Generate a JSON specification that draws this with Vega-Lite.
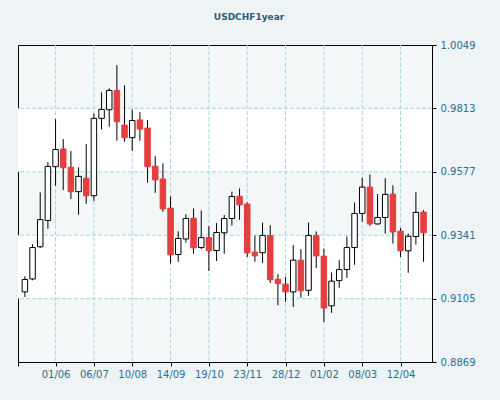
{
  "$schema": "https://vega.github.io/schema/vega-lite/v6.json",
  "width": 414,
  "height": 317,
  "autosize": "none",
  "padding": {"left": 18, "top": 45, "right": 68, "bottom": 38},
  "background": "#eef3f5",
  "title": {"text": "USDCHF1year", "font": "DejaVu Sans", "fontSize": 9, "fontWeight": "bold", "color": "#2f5a78", "anchor": "middle", "frame": "group", "dx": 24, "offset": 18},
  "datasets": {
    "bands": [{"lo": 0.9105, "hi": 0.9341}, {"lo": 0.9577, "hi": 0.9813}],
    "gy": [{"v": 0.9105}, {"v": 0.9341}, {"v": 0.9577}, {"v": 0.9813}],
    "gx": [{"date": "2012-06-01"}, {"date": "2012-07-06"}, {"date": "2012-08-10"}, {"date": "2012-09-14"}, {"date": "2012-10-19"}, {"date": "2012-11-23"}, {"date": "2012-12-28"}, {"date": "2013-02-01"}, {"date": "2013-03-08"}, {"date": "2013-04-12"}],
    "ohlc": [
      {"date": "2012-05-04", "open": 0.9130, "high": 0.9188, "low": 0.9111, "close": 0.9176},
      {"date": "2012-05-11", "open": 0.9178, "high": 0.9308, "low": 0.9173, "close": 0.9295},
      {"date": "2012-05-18", "open": 0.9298, "high": 0.9500, "low": 0.9294, "close": 0.9399},
      {"date": "2012-05-25", "open": 0.9396, "high": 0.9613, "low": 0.9365, "close": 0.9597},
      {"date": "2012-06-01", "open": 0.9596, "high": 0.9773, "low": 0.9525, "close": 0.9660},
      {"date": "2012-06-08", "open": 0.9662, "high": 0.9699, "low": 0.9509, "close": 0.9592},
      {"date": "2012-06-15", "open": 0.9594, "high": 0.9654, "low": 0.9476, "close": 0.9503},
      {"date": "2012-06-22", "open": 0.9503, "high": 0.9594, "low": 0.9417, "close": 0.9560},
      {"date": "2012-06-29", "open": 0.9553, "high": 0.9680, "low": 0.9458, "close": 0.9488},
      {"date": "2012-07-06", "open": 0.9488, "high": 0.9794, "low": 0.9468, "close": 0.9776},
      {"date": "2012-07-13", "open": 0.9776, "high": 0.9873, "low": 0.9735, "close": 0.9809},
      {"date": "2012-07-20", "open": 0.9808, "high": 0.9888, "low": 0.9745, "close": 0.9880},
      {"date": "2012-07-27", "open": 0.9880, "high": 0.9974, "low": 0.9693, "close": 0.9763},
      {"date": "2012-08-03", "open": 0.9751, "high": 0.9899, "low": 0.9689, "close": 0.9704},
      {"date": "2012-08-10", "open": 0.9704, "high": 0.9809, "low": 0.9655, "close": 0.9768},
      {"date": "2012-08-17", "open": 0.9770, "high": 0.9799, "low": 0.9693, "close": 0.9736},
      {"date": "2012-08-24", "open": 0.9740, "high": 0.9770, "low": 0.9536, "close": 0.9596},
      {"date": "2012-08-31", "open": 0.9598, "high": 0.9635, "low": 0.9499, "close": 0.9547},
      {"date": "2012-09-07", "open": 0.9550, "high": 0.9609, "low": 0.9428, "close": 0.9439},
      {"date": "2012-09-14", "open": 0.9442, "high": 0.9485, "low": 0.9236, "close": 0.9268},
      {"date": "2012-09-21", "open": 0.9269, "high": 0.9356, "low": 0.9242, "close": 0.9329},
      {"date": "2012-09-28", "open": 0.9327, "high": 0.9419, "low": 0.9313, "close": 0.9403},
      {"date": "2012-10-05", "open": 0.9404, "high": 0.9440, "low": 0.9272, "close": 0.9294},
      {"date": "2012-10-12", "open": 0.9295, "high": 0.9433, "low": 0.9289, "close": 0.9332},
      {"date": "2012-10-19", "open": 0.9332, "high": 0.9375, "low": 0.9208, "close": 0.9283},
      {"date": "2012-10-26", "open": 0.9284, "high": 0.9386, "low": 0.9245, "close": 0.9351},
      {"date": "2012-11-02", "open": 0.9350, "high": 0.9416, "low": 0.9272, "close": 0.9403},
      {"date": "2012-11-09", "open": 0.9403, "high": 0.9503, "low": 0.9377, "close": 0.9485},
      {"date": "2012-11-16", "open": 0.9486, "high": 0.9515, "low": 0.9398, "close": 0.9454},
      {"date": "2012-11-23", "open": 0.9457, "high": 0.9463, "low": 0.9260, "close": 0.9275},
      {"date": "2012-11-30", "open": 0.9278, "high": 0.9340, "low": 0.9242, "close": 0.9264},
      {"date": "2012-12-07", "open": 0.9276, "high": 0.9388, "low": 0.9238, "close": 0.9340},
      {"date": "2012-12-14", "open": 0.9340, "high": 0.9378, "low": 0.9163, "close": 0.9175},
      {"date": "2012-12-21", "open": 0.9177, "high": 0.9196, "low": 0.9080, "close": 0.9161},
      {"date": "2012-12-28", "open": 0.9159, "high": 0.9185, "low": 0.9093, "close": 0.9130},
      {"date": "2013-01-04", "open": 0.9130, "high": 0.9304, "low": 0.9074, "close": 0.9248},
      {"date": "2013-01-11", "open": 0.9248, "high": 0.9289, "low": 0.9108, "close": 0.9134},
      {"date": "2013-01-18", "open": 0.9136, "high": 0.9388, "low": 0.9115, "close": 0.9340},
      {"date": "2013-01-25", "open": 0.9340, "high": 0.9355, "low": 0.9219, "close": 0.9264},
      {"date": "2013-02-01", "open": 0.9263, "high": 0.9291, "low": 0.9018, "close": 0.9070},
      {"date": "2013-02-08", "open": 0.9078, "high": 0.9202, "low": 0.9052, "close": 0.9170},
      {"date": "2013-02-15", "open": 0.9172, "high": 0.9248, "low": 0.9145, "close": 0.9213},
      {"date": "2013-02-22", "open": 0.9213, "high": 0.9336, "low": 0.9182, "close": 0.9295},
      {"date": "2013-03-01", "open": 0.9295, "high": 0.9463, "low": 0.9231, "close": 0.9422},
      {"date": "2013-03-08", "open": 0.9422, "high": 0.9555, "low": 0.9391, "close": 0.9520},
      {"date": "2013-03-15", "open": 0.9520, "high": 0.9567, "low": 0.9376, "close": 0.9383},
      {"date": "2013-03-22", "open": 0.9383, "high": 0.9494, "low": 0.9380, "close": 0.9407},
      {"date": "2013-03-29", "open": 0.9407, "high": 0.9553, "low": 0.9347, "close": 0.9493},
      {"date": "2013-04-05", "open": 0.9494, "high": 0.9527, "low": 0.9310, "close": 0.9353},
      {"date": "2013-04-12", "open": 0.9356, "high": 0.9368, "low": 0.9260, "close": 0.9283},
      {"date": "2013-04-19", "open": 0.9283, "high": 0.9347, "low": 0.9201, "close": 0.9337},
      {"date": "2013-04-26", "open": 0.9336, "high": 0.9501, "low": 0.9306, "close": 0.9426},
      {"date": "2013-05-03", "open": 0.9427, "high": 0.9434, "low": 0.9242, "close": 0.9350}
    ]
  },
  "layer": [
    {
      "data": {"name": "bands"},
      "mark": {"type": "rect", "fill": "#ffffff"},
      "encoding": {
        "y": {"field": "lo", "type": "quantitative", "title": null, "scale": {"domain": [0.8869, 1.0049], "nice": false, "zero": false, "padding": 0}},
        "y2": {"field": "hi"}
      }
    },
    {
      "data": {"name": "gy"},
      "mark": {"type": "rule", "color": "#a6d8e2", "strokeDash": [4, 2], "strokeWidth": 1},
      "encoding": {
        "y": {"field": "v", "type": "quantitative", "title": null, "scale": {"domain": [0.8869, 1.0049], "nice": false, "zero": false, "padding": 0}}
      }
    },
    {
      "data": {"name": "gx"},
      "mark": {"type": "rule", "color": "#a6d8e2", "strokeDash": [4, 2], "strokeWidth": 1},
      "encoding": {
        "x": {"field": "date", "type": "temporal", "title": null, "scale": {"type": "utc", "padding": 0, "domain": [{"year": 2012, "month": 4, "date": 27, "hours": 17, "utc": true}, {"year": 2013, "month": 5, "date": 10, "hours": 17, "utc": true}]}}
      }
    },
    {
      "data": {"name": "ohlc"},
      "mark": {"type": "rule", "color": "#000000", "strokeWidth": 1},
      "encoding": {
        "x": {
          "field": "date", "type": "temporal", "title": null,
          "scale": {"type": "utc", "padding": 0, "domain": [{"year": 2012, "month": 4, "date": 27, "hours": 17, "utc": true}, {"year": 2013, "month": 5, "date": 10, "hours": 17, "utc": true}]},
          "axis": {
            "title": null,
            "values": [
              {"year": 2012, "month": 4, "date": 27, "hours": 17, "utc": true},
              {"year": 2012, "month": 6, "date": 1, "utc": true},
              {"year": 2012, "month": 7, "date": 6, "utc": true},
              {"year": 2012, "month": 8, "date": 10, "utc": true},
              {"year": 2012, "month": 9, "date": 14, "utc": true},
              {"year": 2012, "month": 10, "date": 19, "utc": true},
              {"year": 2012, "month": 11, "date": 23, "utc": true},
              {"year": 2012, "month": 12, "date": 28, "utc": true},
              {"year": 2013, "month": 2, "date": 1, "utc": true},
              {"year": 2013, "month": 3, "date": 8, "utc": true},
              {"year": 2013, "month": 4, "date": 12, "utc": true}
            ],
            "labelExpr": "datum.value < utc(2012, 4, 20) ? '' : utcFormat(datum.value, '%d/%m')",
            "grid": false,
            "domainColor": "#000000",
            "tickColor": "#000000",
            "tickSize": 4,
            "labelColor": "#2a6f94",
            "labelFont": "DejaVu Sans",
            "labelFontSize": 10,
            "labelPadding": 3,
            "labelFlush": false,
            "labelOverlap": false
          }
        },
        "y": {
          "field": "low", "type": "quantitative", "title": null,
          "scale": {"domain": [0.8869, 1.0049], "nice": false, "zero": false, "padding": 0},
          "axis": {
            "title": null,
            "orient": "right",
            "values": [0.8869, 0.9105, 0.9341, 0.9577, 0.9813, 1.0049],
            "format": ".4f",
            "grid": false,
            "domainColor": "#000000",
            "tickColor": "#000000",
            "tickSize": 4,
            "labelColor": "#2a6f94",
            "labelFont": "DejaVu Sans",
            "labelFontSize": 10,
            "labelPadding": 4,
            "labelFlush": false,
            "labelOverlap": false
          }
        },
        "y2": {"field": "high"}
      }
    },
    {
      "data": {"name": "ohlc"},
      "mark": {"type": "bar", "size": 5.5, "strokeWidth": 1},
      "encoding": {
        "x": {"field": "date", "type": "temporal", "title": null, "scale": {"type": "utc", "padding": 0, "domain": [{"year": 2012, "month": 4, "date": 27, "hours": 17, "utc": true}, {"year": 2013, "month": 5, "date": 10, "hours": 17, "utc": true}]}},
        "y": {"field": "open", "type": "quantitative", "title": null, "scale": {"domain": [0.8869, 1.0049], "nice": false, "zero": false, "padding": 0}},
        "y2": {"field": "close"},
        "fill": {"condition": {"test": "datum.close < datum.open", "value": "#e63e3e"}, "value": "#ffffff"},
        "stroke": {"condition": {"test": "datum.close < datum.open", "value": "#e63e3e"}, "value": "#000000"}
      }
    }
  ],
  "config": {
    "view": {"fill": "#f3f7f8", "stroke": "#000000", "strokeWidth": 1},
    "axis": {"domainWidth": 1, "tickWidth": 1}
  }
}
